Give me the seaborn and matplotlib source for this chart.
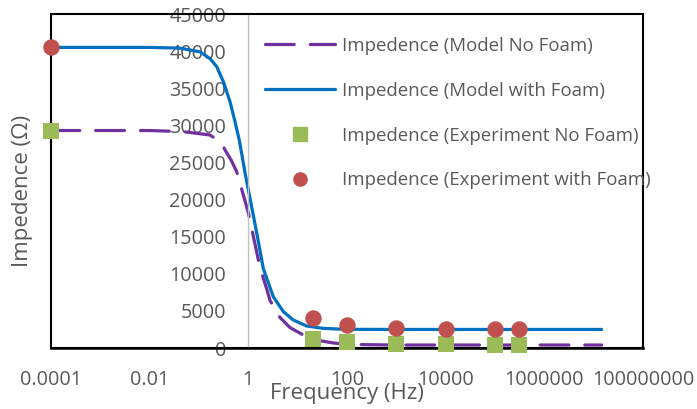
import matplotlib
matplotlib.use("Agg")
import matplotlib.pyplot as plt
import seaborn as sns
import pandas as pd
from matplotlib.lines import Line2D

# ---- data ----
model_freq_foam = [1e-4, 1e-3, 0.01, 0.041, 0.105, 0.167, 0.229, 0.311, 0.425, 0.537,
                   0.66, 0.857, 1.17, 1.6, 2.01, 3.21, 5.12, 8.16, 15.2, 33, 84,
                   1e3, 1e4, 1e5, 1e6, 1.45e7]
model_with_foam = [40500, 40500, 40500, 40400, 39900, 39000, 37900, 35900, 33200, 30500,
                   27900, 23600, 19000, 14300, 10700, 6900, 4900, 3770, 2960, 2650, 2520,
                   2500, 2500, 2500, 2500, 2500]

model_freq_nofoam = [1e-4, 1e-3, 0.01, 0.047, 0.167, 0.288, 0.336, 0.45, 0.581, 0.678,
                     0.927, 1.0, 1.48, 1.73, 2.4, 2.75, 4.4, 7.0, 13.0, 25, 50, 100,
                     1e3, 1e4, 1e5, 1e6, 1.45e7]
model_no_foam = [29300, 29300, 29300, 29150, 28700, 27600, 26700, 25300, 23750, 22200,
                 19000, 18200, 12900, 10800, 7800, 6400, 4100, 2750, 1750, 1050, 700, 480,
                 400, 400, 400, 400, 400]

exp_freq = [1e-4, 20, 100, 1000, 10000, 100000, 300000]
exp_no_foam = [29300, 1210, 800, 540, 500, 400, 400]
exp_with_foam = [40500, 4000, 3100, 2650, 2560, 2520, 2520]

x_ticks = [1e-4, 1e-2, 1, 1e2, 1e4, 1e6, 1e8]
x_tick_labels = ["0.0001", "0.01", "1", "100", "10000", "1000000", "100000000"]
y_ticks = [0, 5000, 10000, 15000, 20000, 25000, 30000, 35000, 40000, 45000]

labels = ["Impedence (Model No Foam)", "Impedence (Model with Foam)",
          "Impedence (Experiment No Foam)", "Impedence (Experiment with Foam)"]

PURPLE = "#7030A0"
BLUE = "#0070C0"
GREEN = "#9BBB59"
RED = "#C0504D"
TXT = "#595959"

sns.set_style("white")
plt.rcParams['font.family'] = ['Open Sans', 'DejaVu Sans']

fig = plt.figure(figsize=(6.97, 4.09), dpi=100)
ax = fig.add_axes([51/697, 61/409, 592/697, 334/409])

df_nf = pd.DataFrame({"f": model_freq_nofoam, "z": model_no_foam})
df_wf = pd.DataFrame({"f": model_freq_foam, "z": model_with_foam})
df_exp = pd.DataFrame({"f": exp_freq, "nf": exp_no_foam, "wf": exp_with_foam})

sns.lineplot(data=df_nf, x="f", y="z", ax=ax, color=PURPLE, lw=2.3,
             sort=False, estimator=None)
ln = ax.lines[-1]
ln.set_dashes((9, 5))
ln.set_dash_capstyle("round")
ln.set_solid_joinstyle("round")
sns.lineplot(data=df_wf, x="f", y="z", ax=ax, color=BLUE, lw=2.3,
             sort=False, estimator=None)
ax.lines[-1].set_solid_capstyle("round")
sns.scatterplot(data=df_exp, x="f", y="nf", ax=ax, color=GREEN, marker="s",
                s=135, linewidth=0, zorder=5)
sns.scatterplot(data=df_exp, x="f", y="wf", ax=ax, color=RED, marker="o",
                s=140, linewidth=0, zorder=6)
for c in ax.collections:
    c.set_clip_on(False)

ax.set_xscale("log")
ax.set_xlim(1e-4, 1e8)
ax.set_ylim(0, 45000)
ax.set_xticks(x_ticks)
ax.set_xticklabels(x_tick_labels)
ax.set_yticks(y_ticks)
ax.set_yticklabels([str(v) for v in y_ticks])
ax.minorticks_off()
ax.tick_params(axis="x", length=0, pad=16, labelsize=14.3, labelcolor=TXT)
ax.tick_params(axis="y", length=0, pad=16, labelsize=14.3, labelcolor=TXT)

# Excel-style: value axis crosses at 1
ax.spines["left"].set_position(("data", 1))
ax.spines["left"].set_color("#BFBFBF")
ax.spines["left"].set_linewidth(1.0)
for s in ["top", "right"]:
    ax.spines[s].set_color("black")
    ax.spines[s].set_linewidth(1.3)
ax.spines["bottom"].set_color("black")
ax.spines["bottom"].set_linewidth(1.8)
ax.patch.set_edgecolor("black")
ax.patch.set_linewidth(1.5)

ax.set_xlabel("Frequency (Hz)", fontsize=16, color=TXT)
ax.xaxis.set_label_coords(0.5, -0.105)
ax.set_ylabel("Impedence (\u03a9)", fontsize=16, color=TXT)
ax.yaxis.set_label_coords(-0.030, 0.47)

handles = [
    Line2D([], [], color=PURPLE, lw=2.3, dashes=(9, 5), dash_capstyle="round"),
    Line2D([], [], color=BLUE, lw=2.3, solid_capstyle="round"),
    Line2D([], [], color=GREEN, marker="s", ls="none", markersize=9.5),
    Line2D([], [], color=RED, marker="o", ls="none", markersize=9.5),
]
leg = ax.legend(handles, labels, loc="upper left", bbox_to_anchor=(265/697, 1 - 37/409),
                bbox_transform=fig.transFigure, frameon=False, fontsize=13.4,
                handlelength=3.76, handletextpad=0.38, labelspacing=1.44,
                borderpad=0, borderaxespad=0)
for t in leg.get_texts():
    t.set_color(TXT)

fig.savefig("out.png", dpi=100)
